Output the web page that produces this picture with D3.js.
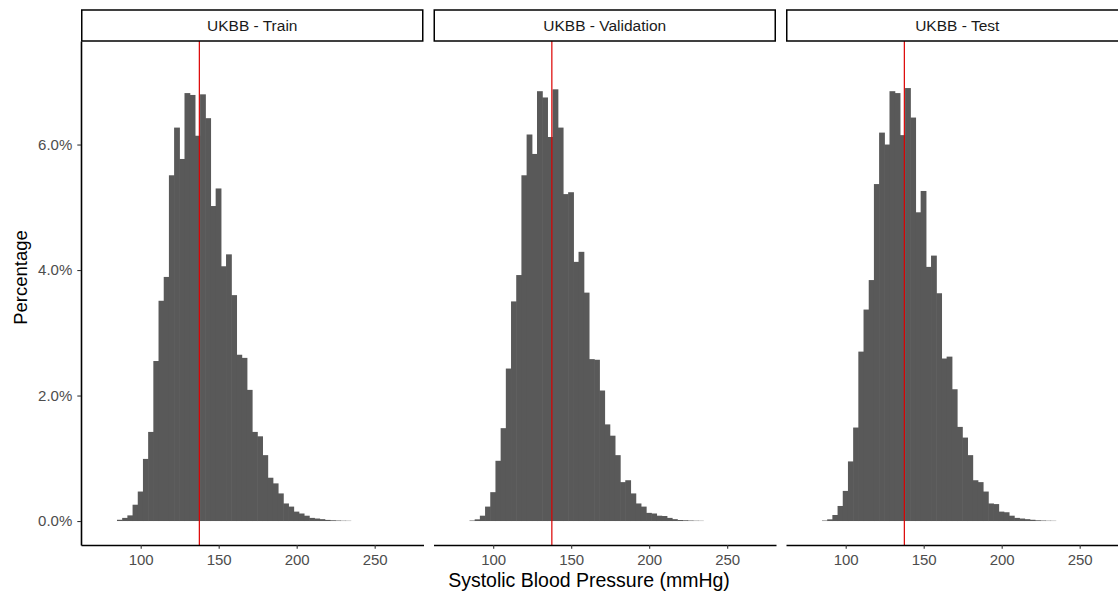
<!DOCTYPE html>
<meta charset="utf-8">
<script src="https://d3js.org/d3.v7.min.js"></script>
<style>
  body { margin: 0; background: #fff; }
  text { font-family: "Liberation Sans", Arial, sans-serif; }
</style>
<svg id="chart" width="1118" height="593"></svg>
<script>

    // facet labels
    const panels = ["UKBB - Train", "UKBB - Validation", "UKBB - Test"];

    // histogram bins (mmHg) – 45 equal bins
    const binStart = 84.8, binWidth = 3.329;

    // percentage per bin
    const trainPct = [0.02, 0.05, 0.09, 0.26, 0.47, 0.99, 1.42, 2.55, 3.51, 3.89,
                      5.51, 6.27, 5.77, 6.82, 6.79, 6.14, 6.80, 6.42, 5.02, 5.30,
                      4.06, 4.25, 3.60, 2.65, 2.60, 2.09, 1.42, 1.35, 1.05, 0.69,
                      0.60, 0.44, 0.28, 0.23, 0.15, 0.12, 0.085, 0.05, 0.04, 0.03,
                      0.018, 0.012, 0.008, 0.005, 0.004];
    const validPct = [0.008, 0.027, 0.085, 0.23, 0.46, 0.96, 1.48, 2.43, 3.50, 3.92,
                      5.51, 6.16, 5.85, 6.85, 6.75, 6.12, 6.88, 6.27, 5.21, 5.24,
                      4.13, 4.29, 3.64, 2.58, 2.57, 2.08, 1.54, 1.36, 1.05, 0.62,
                      0.65, 0.44, 0.28, 0.23, 0.13, 0.12, 0.085, 0.08, 0.05, 0.03,
                      0.016, 0.012, 0.008, 0.005, 0.004];
    const testPct  = [0.008, 0.027, 0.096, 0.24, 0.48, 0.95, 1.49, 2.70, 3.37, 3.84,
                      5.37, 6.19, 6.00, 6.85, 6.82, 6.15, 6.90, 6.43, 4.92, 5.26,
                      4.05, 4.23, 3.63, 2.59, 2.62, 2.10, 1.50, 1.33, 1.05, 0.65,
                      0.62, 0.47, 0.28, 0.27, 0.15, 0.14, 0.085, 0.05, 0.04, 0.03,
                      0.02, 0.012, 0.008, 0.005, 0.004];
    const panelData = [trainPct, validPct, testPct];

    // mean SBP (red reference line)
    const meanSBP = 137.6;

    const xTicks = [100, 150, 200, 250];
    const yTicks = [0, 2, 4, 6];

    const svg = d3.select("#chart");

    // layout
    const panelW = 342.5, gap = 10,
          plotLeft = 81, plotTop = 41, plotBottom = 545,
          stripTop = 10;

    const x = d3.scaleLinear().domain([61.73, 281.3]).range([0, panelW]);
    const y = d3.scaleLinear().domain([-0.382, 7.65]).range([plotBottom, plotTop]);

    panels.forEach(function (name, p) {
      const x0 = plotLeft + p * (panelW + gap);
      const g = svg.append("g").attr("transform", `translate(${x0},0)`);
      const bins = panelData[p].map((v, i) => ({ x: binStart + i * binWidth, pct: v }));

      // bars (slight overlap so no seams between neighbours)
      g.selectAll("rect.bar")
        .data(bins)
        .join("rect")
          .attr("class", "bar")
          .attr("x", d => x(d.x))
          .attr("width", d => x(d.x + binWidth) - x(d.x) + 0.6)
          .attr("y", d => y(d.pct))
          .attr("height", d => y(0) - y(d.pct))
          .attr("fill", "#595959");

      // mean line
      g.append("line")
        .attr("x1", x(meanSBP)).attr("x2", x(meanSBP))
        .attr("y1", plotTop).attr("y2", plotBottom)
        .attr("stroke", "#dd0000")
        .attr("stroke-width", 1.2);

      // x axis
      const xa = g.append("g")
        .attr("transform", `translate(0,${plotBottom})`)
        .call(d3.axisBottom(x).tickValues(xTicks).tickSizeInner(3.7).tickSizeOuter(0).tickPadding(6));
      xa.select(".domain").attr("stroke", "#000").attr("stroke-width", 1.6);
      xa.selectAll(".tick line").attr("stroke", "#333").attr("stroke-width", 1.1);
      xa.selectAll(".tick text")
        .attr("fill", "#4d4d4d")
        .style("font-size", "15px");

      // y axis only on first panel
      if (p === 0) {
        const ya = g.append("g")
          .call(d3.axisLeft(y).tickValues(yTicks).tickSizeInner(3.7).tickSizeOuter(0).tickPadding(5)
            .tickFormat(d => d3.format(".1f")(d) + "%"));
        ya.select(".domain").attr("stroke", "#000").attr("stroke-width", 1.6);
        ya.selectAll(".tick line").attr("stroke", "#333").attr("stroke-width", 1.1);
        ya.selectAll(".tick text")
          .attr("fill", "#4d4d4d")
          .style("font-size", "15px");
      }

      // strip
      g.append("rect")
        .attr("x", 0.75).attr("y", stripTop)
        .attr("width", panelW - 1.5).attr("height", plotTop - stripTop)
        .attr("fill", "#fff")
        .attr("stroke", "#000")
        .attr("stroke-width", 1.5);
      g.append("text")
        .attr("x", panelW / 2)
        .attr("y", (stripTop + plotTop) / 2)
        .attr("dy", "0.35em")
        .attr("text-anchor", "middle")
        .attr("fill", "#1a1a1a")
        .style("font-size", "15.5px")
        .text(name);
    });

    // axis titles
    svg.append("text")
      .attr("x", 589)
      .attr("y", 587)
      .attr("text-anchor", "middle")
      .attr("fill", "#000")
      .style("font-size", "19.5px")
      .text("Systolic Blood Pressure (mmHg)");

    svg.append("text")
      .attr("transform", `translate(27,${(stripTop + plotBottom) / 2}) rotate(-90)`)
      .attr("text-anchor", "middle")
      .attr("fill", "#000")
      .style("font-size", "18.5px")
      .text("Percentage");

</script>
